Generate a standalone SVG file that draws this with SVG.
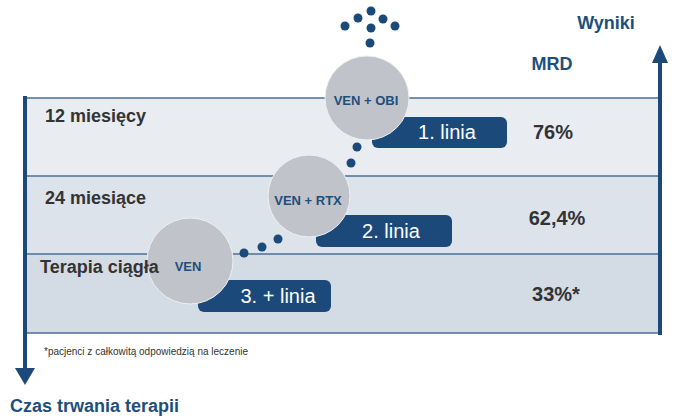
<svg xmlns="http://www.w3.org/2000/svg" width="674" height="418" viewBox="0 0 674 418">
<style>
.lbl{font-family:"Liberation Sans",Arial,sans-serif;font-weight:bold;fill:#333;font-size:18px}
.val{font-family:"Liberation Sans",Arial,sans-serif;font-weight:bold;fill:#333;font-size:20px;text-anchor:middle}
.blue{font-family:"Liberation Sans",Arial,sans-serif;font-weight:bold;fill:#1d4f7c}
.ctext{font-family:"Liberation Sans",Arial,sans-serif;font-weight:bold;fill:#1d4f7c;font-size:13px;text-anchor:middle}
.pill{fill:#1b4a7a}
.ptext{font-family:"Liberation Sans",Arial,sans-serif;fill:#fff;font-size:20px;text-anchor:middle}
.circ{fill:#c0c3c9;stroke:#eef0f3;stroke-width:1}
.dot{fill:#1b4a7a}
.sep{stroke:#4d6f95;stroke-width:1.5}
.axis{stroke:#1b4a7a;stroke-width:4;fill:none}
</style>
<rect width="674" height="418" fill="#fff"/>
<g id="bands">
<rect x="25" y="98" width="635" height="78" fill="#e9edf2"/>
<rect x="25" y="176" width="635" height="78" fill="#dde3eb"/>
<rect x="25" y="254" width="635" height="79" fill="#d3dbe5"/>
<line class="sep" x1="25" y1="98" x2="660" y2="98"/>
<line class="sep" x1="25" y1="176" x2="660" y2="176"/>
<line class="sep" x1="25" y1="254" x2="660" y2="254"/>
<line class="sep" x1="25" y1="333" x2="660" y2="333"/>
</g>
<g id="axes">
<line class="axis" x1="25" y1="96" x2="25" y2="370"/>
<polygon points="15,368 35,368 25,385" fill="#1b4a7a"/>
<line class="axis" x1="660" y1="335" x2="660" y2="60"/>
<polygon points="652,63 668,63 660,45" fill="#1b4a7a"/>
</g>
<g id="connectors">
<circle class="dot" cx="371" cy="11" r="4.5"/>
<circle class="dot" cx="358" cy="18" r="4.5"/>
<circle class="dot" cx="383" cy="19" r="4.5"/>
<circle class="dot" cx="345" cy="26" r="4.5"/>
<circle class="dot" cx="371" cy="28" r="4.5"/>
<circle class="dot" cx="395" cy="26" r="4.5"/>
<circle class="dot" cx="370" cy="43" r="4.5"/>
<circle class="dot" cx="357" cy="147" r="4.5"/>
<circle class="dot" cx="351" cy="163" r="4.5"/>
<circle class="dot" cx="244" cy="253" r="4.5"/>
<circle class="dot" cx="262" cy="247" r="4.5"/>
<circle class="dot" cx="278" cy="239" r="4.5"/>
</g>
<g id="line1">
<rect class="pill" x="372" y="117" width="135" height="31" rx="6"/>
<text class="ptext" x="447" y="139">1. linia</text>
</g>
<g id="line2">
<rect class="pill" x="316" y="215" width="136" height="32" rx="6"/>
<text class="ptext" x="391" y="238">2. linia</text>
</g>
<g id="line3">
<rect class="pill" x="198" y="280" width="133" height="32" rx="6"/>
<text class="ptext" x="278" y="303">3. + linia</text>
</g>
<g id="node-obi">
<circle class="circ" cx="367" cy="98" r="42"/>
<text class="ctext" x="366" y="105">VEN + OBI</text>
</g>
<g id="node-rtx">
<circle class="circ" cx="309" cy="196" r="41"/>
<text class="ctext" x="308" y="205">VEN + RTX</text>
</g>
<g id="node-ven">
<circle class="circ" cx="190" cy="261" r="43"/>
<text class="ctext" x="188" y="271" font-size="13.5">VEN</text>
</g>
<g id="row-labels">
<text class="lbl" x="45" y="122">12 miesięcy</text>
<text class="lbl" x="45" y="204">24 miesiące</text>
<text class="lbl" x="40" y="273" font-size="17.5">Terapia ciągła</text>
</g>
<g id="results">
<text class="blue" x="606" y="29" font-size="18" text-anchor="middle">Wyniki</text>
<text class="blue" x="552" y="70" font-size="18" text-anchor="middle">MRD</text>
<text class="val" x="553" y="139">76%</text>
<text class="val" x="557" y="225">62,4%</text>
<text class="val" x="556" y="301">33%*</text>
</g>
<g id="footer">
<text x="44" y="355" font-family="'Liberation Sans',Arial,sans-serif" font-size="10" fill="#333">*pacjenci z całkowitą odpowiedzią na leczenie</text>
<text class="blue" x="10" y="412" font-size="18">Czas trwania terapii</text>
</g>
</svg>
